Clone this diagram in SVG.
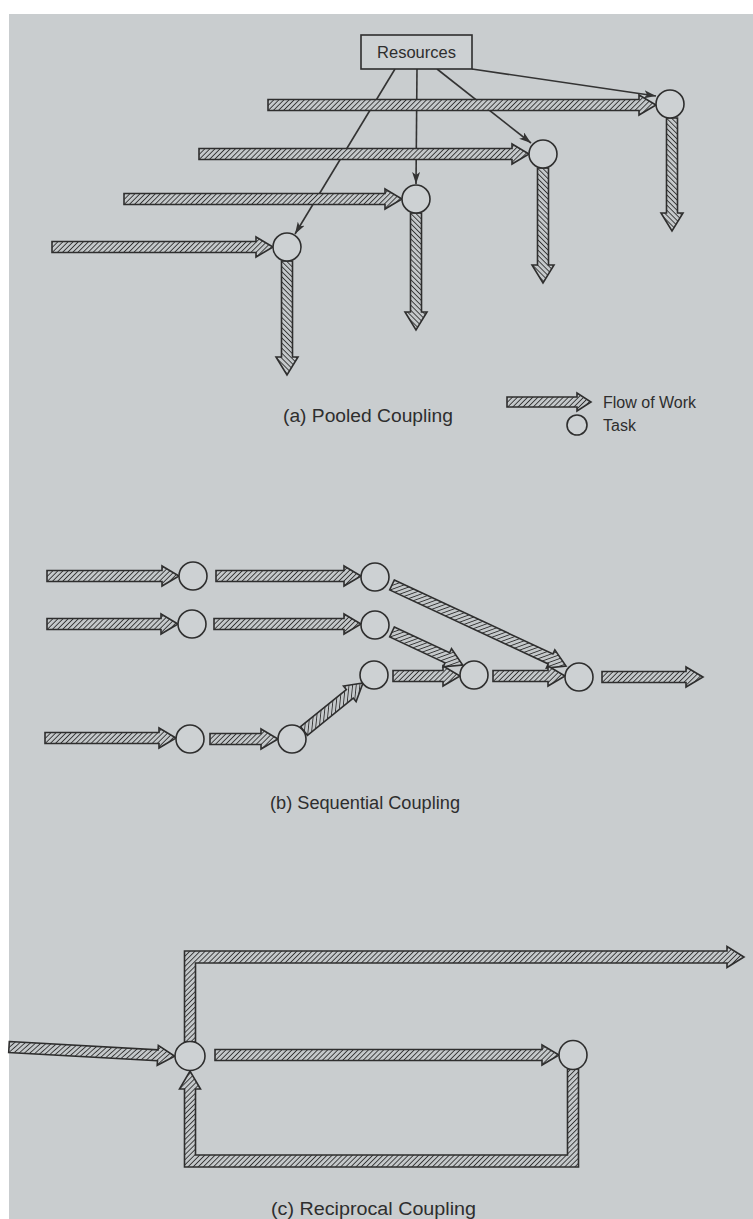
<svg xmlns="http://www.w3.org/2000/svg" width="753" height="1219" viewBox="0 0 753 1219">
<defs>
<pattern id="hatch" patternUnits="userSpaceOnUse" width="3.6" height="3.6" patternTransform="rotate(45)">
<rect width="3.6" height="3.6" fill="#c4c8ca"/>
<line x1="0" y1="0" x2="0" y2="3.6" stroke="#353535" stroke-width="1.8"/>
</pattern>
<marker id="ah" viewBox="0 0 12 8" refX="12" refY="4" markerWidth="12" markerHeight="8" markerUnits="userSpaceOnUse" orient="auto">
<path d="M0,0 L12,4 L0,8 L3,4 Z" fill="#333"/>
</marker>
</defs>
<style>
.bg{fill:#c9cdcf}
.flow{fill:url(#hatch);stroke:#2e2e2e;stroke-width:1.6;stroke-linejoin:miter}
.task{fill:#cdd1d3;stroke:#2e2e2e;stroke-width:1.6}
.res{fill:none;stroke:#333;stroke-width:1.6;marker-end:url(#ah)}
.lbl{font-family:"Liberation Sans",Arial,sans-serif;fill:#2e2e2e}
.cap{font-size:18px}
</style>
<rect x="0" y="0" width="753" height="1219" fill="#ffffff"/>
<rect class="bg" x="9" y="14" width="744" height="1205"/>

<g id="connectors">
<!-- (a) pooled: resource lines -->
<line class="res" x1="395" y1="69" x2="295" y2="234"/>
<line class="res" x1="417" y1="69" x2="416" y2="184"/>
<line class="res" x1="437" y1="69" x2="531" y2="143"/>
<line class="res" x1="472" y1="69" x2="656" y2="96"/>
<!-- (a) pooled: horizontal flows -->
<polygon class="flow" transform="translate(268,105)" points="0,-5.5 371,-5.5 371,-10 388,0 371,10 371,5.5 0,5.5"/>
<polygon class="flow" transform="translate(199,154)" points="0,-5.5 313,-5.5 313,-10 330,0 313,10 313,5.5 0,5.5"/>
<polygon class="flow" transform="translate(124,199)" points="0,-5.5 261,-5.5 261,-10 278,0 261,10 261,5.5 0,5.5"/>
<polygon class="flow" transform="translate(52,247)" points="0,-5.5 204,-5.5 204,-10 221,0 204,10 204,5.5 0,5.5"/>
<!-- (a) pooled: vertical outputs -->
<polygon class="flow" transform="translate(672,118) rotate(90)" points="0,-5.5 95,-5.5 95,-11 113,0 95,11 95,5.5 0,5.5"/>
<polygon class="flow" transform="translate(543,168) rotate(90)" points="0,-5.5 97,-5.5 97,-11 115,0 97,11 97,5.5 0,5.5"/>
<polygon class="flow" transform="translate(416,213) rotate(90)" points="0,-5.5 99,-5.5 99,-11 117,0 99,11 99,5.5 0,5.5"/>
<polygon class="flow" transform="translate(287,261) rotate(90)" points="0,-5.5 96,-5.5 96,-11 114,0 96,11 96,5.5 0,5.5"/>

<!-- (b) sequential -->
<polygon class="flow" transform="translate(47,576)" points="0,-5.5 115,-5.5 115,-10 132,0 115,10 115,5.5 0,5.5"/>
<polygon class="flow" transform="translate(216,576)" points="0,-5.5 128,-5.5 128,-10 145,0 128,10 128,5.5 0,5.5"/>
<polygon class="flow" transform="translate(47,624)" points="0,-5.5 114,-5.5 114,-10 131,0 114,10 114,5.5 0,5.5"/>
<polygon class="flow" transform="translate(214,624)" points="0,-5.5 130,-5.5 130,-10 147,0 130,10 130,5.5 0,5.5"/>
<polygon class="flow" transform="translate(45,738)" points="0,-5.5 114,-5.5 114,-10 131,0 114,10 114,5.5 0,5.5"/>
<polygon class="flow" transform="translate(210,739)" points="0,-5.5 51,-5.5 51,-10 68,0 51,10 51,5.5 0,5.5"/>
<polygon class="flow" transform="translate(304,731) rotate(-39.1)" points="0,-5.5 59,-5.5 59,-10 76,0 59,10 59,5.5 0,5.5"/>
<polygon class="flow" transform="translate(392,585) rotate(25)" points="0,-5.5 175,-5.5 175,-10 192,0 175,10 175,5.5 0,5.5"/>
<polygon class="flow" transform="translate(392,632) rotate(25)" points="0,-5.5 61,-5.5 61,-10 78,0 61,10 61,5.5 0,5.5"/>
<polygon class="flow" transform="translate(393,676)" points="0,-5.5 50,-5.5 50,-10 67,0 50,10 50,5.5 0,5.5"/>
<polygon class="flow" transform="translate(493,676)" points="0,-5.5 55,-5.5 55,-10 72,0 55,10 55,5.5 0,5.5"/>
<polygon class="flow" transform="translate(602,677)" points="0,-5.5 84,-5.5 84,-10 101,0 84,10 84,5.5 0,5.5"/>

<!-- (c) reciprocal -->
<polygon class="flow" transform="translate(9,1047) rotate(3.2)" points="0,-5.5 149,-5.5 149,-10 166,0 149,10 149,5.5 0,5.5"/>
<polygon class="flow" transform="translate(215,1055)" points="0,-5.5 327,-5.5 327,-10 344,0 327,10 327,5.5 0,5.5"/>
<polygon class="flow" points="184.5,1042 184.5,951 727,951 727,946.5 744,957 727,967.5 727,963 195.5,963 195.5,1042"/>
<polygon class="flow" points="567.5,1069 567.5,1155 195.5,1155 195.5,1089 200.5,1089 190,1071 179.5,1089 184.5,1089 184.5,1167 578.5,1167 578.5,1069"/>
</g>

<g id="resources">
<rect x="361" y="35" width="111" height="34" fill="#cdd1d3" stroke="#2e2e2e" stroke-width="1.6"/>
<text class="lbl" x="416.5" y="58" font-size="16.5" text-anchor="middle">Resources</text>
</g>

<g id="pooled-tasks">
<circle class="task" cx="670" cy="104" r="14"/>
<circle class="task" cx="543" cy="154" r="14"/>
<circle class="task" cx="416" cy="199" r="14"/>
<circle class="task" cx="287" cy="247" r="14"/>
</g>

<g id="legend">
<polygon class="flow" transform="translate(507,402)" points="0,-5 70,-5 70,-9 84,0 70,9 70,5 0,5"/>
<text class="lbl" x="603" y="408" font-size="16">Flow of Work</text>
<circle class="task" cx="577" cy="425" r="10"/>
<text class="lbl" x="603" y="431" font-size="16">Task</text>
</g>

<g id="sequential-tasks">
<circle class="task" cx="193" cy="576" r="14"/>
<circle class="task" cx="375" cy="577" r="14"/>
<circle class="task" cx="192" cy="624" r="14"/>
<circle class="task" cx="375" cy="625" r="14"/>
<circle class="task" cx="374" cy="675" r="14"/>
<circle class="task" cx="190" cy="739" r="14"/>
<circle class="task" cx="292" cy="739" r="14"/>
<circle class="task" cx="474" cy="675" r="14"/>
<circle class="task" cx="579" cy="677" r="14"/>
</g>

<g id="reciprocal-tasks">
<ellipse class="task" cx="190" cy="1056" rx="15" ry="14.5"/>
<ellipse class="task" cx="573" cy="1055" rx="14" ry="14.5"/>
</g>

<g id="captions">
<text class="lbl cap" x="283" y="422" textLength="170" lengthAdjust="spacingAndGlyphs">(a)  Pooled Coupling</text>
<text class="lbl cap" x="270" y="809" textLength="190" lengthAdjust="spacingAndGlyphs">(b)  Sequential Coupling</text>
<text class="lbl" x="271" y="1215" font-size="18" textLength="205" lengthAdjust="spacingAndGlyphs">(c)  Reciprocal Coupling</text>
</g>
</svg>
